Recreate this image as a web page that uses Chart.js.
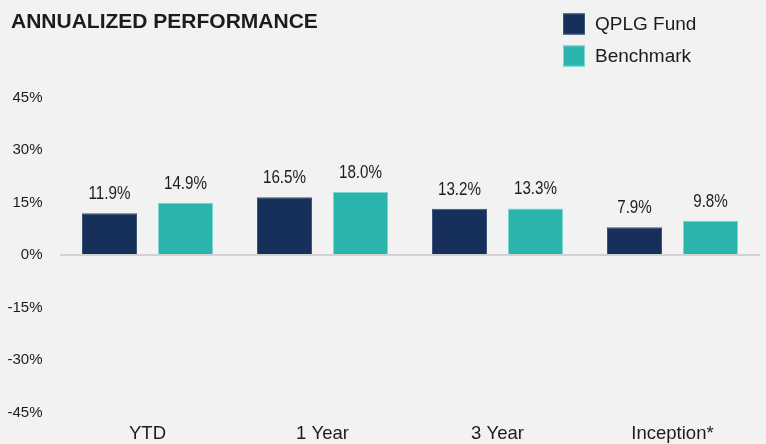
<!DOCTYPE html>
<html>
<head>
<meta charset="utf-8">
<script src="https://cdn.jsdelivr.net/npm/chart.js@4.4.1/dist/chart.umd.min.js"></script>
<style>
  html, body { margin: 0; padding: 0; background: #f2f2f2; }
  #wrap { width: 766px; height: 444px; position: relative; }
</style>
</head>
<body>
<div id="wrap"><canvas id="c" width="766" height="444"></canvas></div>
<script>
const categories = ['YTD', '1 Year', '3 Year', 'Inception*'];
const fundValues = [11.9, 16.5, 13.2, 7.9];
const benchmarkValues = [14.9, 18.0, 13.3, 9.8];
const seriesNames = ['QPLG Fund', 'Benchmark'];
const yTicks = [-45, -30, -15, 0, 15, 30, 45];
const titleText = 'ANNUALIZED PERFORMANCE';

const fundColor = '#172f5b', fundBorder = '#3f5479';
const benchColor = '#29b5ae', benchBorder = '#7fd5ce';
const textColor = '#1c1c1c';

let narrowFamily = null;
(function detectNarrow() {
  const cv = document.createElement('canvas').getContext('2d');
  cv.font = '20px "Liberation Sans"';
  const w1 = cv.measureText('11.9%').width;
  cv.font = '20px "Liberation Sans Narrow", "Liberation Sans"';
  const w2 = cv.measureText('11.9%').width;
  narrowFamily = (w2 / w1 < 0.9) ? '"Liberation Sans Narrow"' : null;
})();

const bgPlugin = {
  id: 'bg',
  beforeDraw(chart) {
    const ctx = chart.ctx;
    ctx.save();
    ctx.fillStyle = '#f2f2f2';
    ctx.fillRect(0, 0, chart.width, chart.height);
    ctx.restore();
  }
};

const labelPlugin = {
  id: 'valueLabels',
  afterDatasetsDraw(chart) {
    const ctx = chart.ctx;
    ctx.save();
    ctx.fillStyle = textColor;
    ctx.textAlign = 'center';
    ctx.textBaseline = 'alphabetic';
    chart.data.datasets.forEach((ds, di) => {
      const meta = chart.getDatasetMeta(di);
      meta.data.forEach((bar, i) => {
        const txt = ds.data[i].toFixed(1) + '%';
        const x = bar.x, y = bar.y - 14;
        if (narrowFamily) {
          ctx.font = '18.5px ' + narrowFamily;
          ctx.fillText(txt, x, y);
        } else {
          ctx.font = '18.5px "Liberation Sans", Arial, sans-serif';
          ctx.save();
          ctx.translate(x, y);
          ctx.scale(0.82, 1);
          ctx.fillText(txt, 0, 0);
          ctx.restore();
        }
      });
    });
    ctx.restore();
  }
};

const headerPlugin = {
  id: 'header',
  afterDraw(chart) {
    const ctx = chart.ctx;
    ctx.save();
    ctx.fillStyle = textColor;
    ctx.font = 'bold 21px "Liberation Sans", Arial, sans-serif';
    ctx.textAlign = 'left';
    ctx.textBaseline = 'alphabetic';
    ctx.fillText(titleText, 11, 28);

    const items = [
      { name: seriesNames[0], fill: fundColor, border: fundBorder, y: 13.5 },
      { name: seriesNames[1], fill: benchColor, border: benchBorder, y: 45.5 }
    ];
    items.forEach(it => {
      ctx.fillStyle = it.fill;
      ctx.fillRect(563, it.y, 22, 21);
      ctx.strokeStyle = it.border;
      ctx.lineWidth = 1;
      ctx.strokeRect(563.5, it.y + 0.5, 21, 20);
      ctx.fillStyle = textColor;
      ctx.font = '19px "Liberation Sans", Arial, sans-serif';
      ctx.textBaseline = 'middle';
      ctx.fillText(it.name, 595, it.y + 11);
    });
    ctx.restore();
  }
};

new Chart(document.getElementById('c'), {
  type: 'bar',
  data: {
    labels: categories,
    datasets: [
      { label: seriesNames[0], data: fundValues, backgroundColor: fundColor, borderColor: fundBorder, borderWidth: 1,
        categoryPercentage: 0.8686, barPercentage: 0.7237 },
      { label: seriesNames[1], data: benchmarkValues, backgroundColor: benchColor, borderColor: benchBorder, borderWidth: 1,
        categoryPercentage: 0.8686, barPercentage: 0.7237 }
    ]
  },
  options: {
    responsive: false,
    animation: false,
    devicePixelRatio: 1,
    layout: { padding: { top: 97.5, right: 6, bottom: 0, left: 0 } },
    plugins: {
      legend: { display: false },
      title: { display: false },
      tooltip: { enabled: false }
    },
    scales: {
      x: {
        grid: { display: false, drawTicks: false },
        border: { display: false },
        ticks: {
          color: textColor,
          font: { family: '"Liberation Sans", Arial, sans-serif', size: 18.5 },
          padding: 10.5,
          maxRotation: 0
        },
        afterFit(scale) { scale.height = 31.5; }
      },
      y: {
        min: -45, max: 45,
        afterBuildTicks(scale) { scale.ticks = yTicks.map(v => ({ value: v })); },
        grid: {
          drawTicks: false,
          lineWidth: 2,
          color: ctx => (ctx.tick && ctx.tick.value === 0) ? '#d2d2d2' : 'rgba(0,0,0,0)'
        },
        border: { display: false },
        ticks: {
          color: textColor,
          font: { family: '"Liberation Sans", Arial, sans-serif', size: 15 },
          padding: 17.5,
          callback: v => v + '%'
        },
        afterFit(scale) { scale.width = 60; }
      }
    }
  },
  plugins: [bgPlugin, labelPlugin, headerPlugin]
});
</script>
</body>
</html>
